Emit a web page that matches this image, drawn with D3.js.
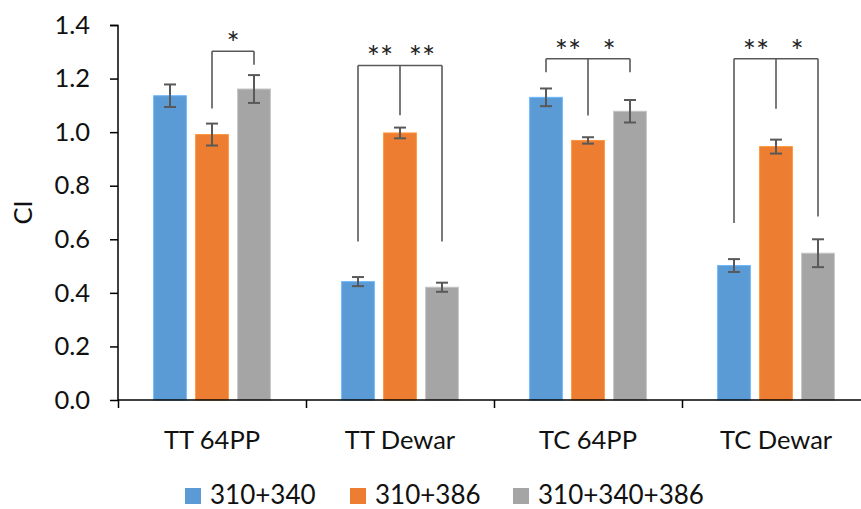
<!DOCTYPE html>
<html><head><meta charset="utf-8">
<script src="https://cdn.jsdelivr.net/npm/d3@7"></script>
<style>body{margin:0;background:#fff;}svg{display:block;font-family:Lato,"Open Sans",sans-serif;}</style>
</head><body><svg id="c" width="861" height="509"></svg>
<script>
const categories = ["TT 64PP", "TT Dewar", "TC 64PP", "TC Dewar"];
const seriesNames = ["310+340", "310+386", "310+340+386"];
const seriesColors = ["#5B9BD5", "#ED7D31", "#A5A5A5"];
const v310_340 = [1.136, 0.442, 1.130, 0.502];
const v310_386 = [0.991, 0.997, 0.969, 0.946];
const v310_340_386 = [1.161, 0.421, 1.078, 0.548];
const e310_340 = [0.042, 0.017, 0.033, 0.024];
const e310_386 = [0.041, 0.020, 0.012, 0.026];
const e310_340_386 = [0.052, 0.017, 0.042, 0.052];
const yTicks = [0.0, 0.2, 0.4, 0.6, 0.8, 1.0, 1.2, 1.4];
// significance brackets: category index, series indices with leg-end values, bar level, labels
const brackets = [
  {cat: 0, top: 1.302, legs: [[1, 1.088], [2, 1.252]], stars: [[1, 2, "*"]]},
  {cat: 1, top: 1.249, legs: [[0, 0.592], [1, 1.063], [2, 0.592]], stars: [[0, 1, "**"], [1, 2, "**"]]},
  {cat: 2, top: 1.274, legs: [[0, 1.224], [1, 1.062], [2, 1.224]], stars: [[0, 1, "**"], [1, 2, "*"]]},
  {cat: 3, top: 1.274, legs: [[0, 0.661], [1, 1.087], [2, 0.685]], stars: [[0, 1, "**"], [1, 2, "*"]]}
];

const values = [v310_340, v310_386, v310_340_386];
const errors = [e310_340, e310_386, e310_340_386];

const svg = d3.select("#c");
const x0 = d3.scaleBand().domain(categories).range([118, 870]).padding(0);
const x1 = d3.scaleBand().domain(d3.range(3)).range([31, 157]).paddingInner(0.22).paddingOuter(0.11);
const y = d3.scaleLinear().domain([0, 1.4]).range([400, 25]);
const cx = (c, s) => x0(categories[c]) + x1(s) + x1.bandwidth() / 2;

// bars
const rows = [];
categories.forEach((c, ci) => values.forEach((vals, si) => rows.push({ci, si, v: vals[ci], e: errors[si][ci]})));
svg.append("g").selectAll("rect").data(rows).join("rect")
  .attr("x", d => x0(categories[d.ci]) + x1(d.si))
  .attr("width", x1.bandwidth())
  .attr("y", d => y(d.v))
  .attr("height", d => y(0) - y(d.v))
  .attr("fill", d => seriesColors[d.si])
  .attr("stroke", d => d3.color(seriesColors[d.si]).brighter(0.5))
  .attr("stroke-width", 1);

// error bars
const eg = svg.append("g").attr("stroke", "#595959").attr("stroke-width", 2);
rows.forEach(d => {
  const xc = cx(d.ci, d.si);
  eg.append("line").attr("x1", xc).attr("x2", xc).attr("y1", y(d.v + d.e)).attr("y2", y(d.v - d.e));
  [d.v + d.e, d.v - d.e].forEach(t => eg.append("line").attr("x1", xc - 6).attr("x2", xc + 6).attr("y1", y(t)).attr("y2", y(t)));
});

// axes
const yAxis = d3.axisLeft(y).tickValues(yTicks).tickFormat(d3.format(".1f")).tickSize(8).tickPadding(20);
const gy = svg.append("g").attr("transform", "translate(118,0)").call(yAxis);
gy.select(".domain").attr("d", "M-8,25.5H0V400").attr("stroke", "#000").attr("stroke-width", 1.5).attr("fill", "none");
gy.selectAll(".tick line").attr("stroke", "#000").attr("stroke-width", 1.5);
gy.selectAll(".tick text").attr("font-size", 25.5).attr("fill", "#111").attr("font-family", "Lato");

const xAxis = d3.axisBottom(d3.scaleLinear().domain([0, 4]).range([118, 870])).tickValues([0, 1, 2, 3, 4]).tickFormat("").tickSize(8);
const gx = svg.append("g").attr("transform", "translate(0,400)").call(xAxis);
gx.select(".domain").attr("d", "M118,0H870").attr("stroke", "#000").attr("stroke-width", 1.5);
gx.selectAll(".tick line").attr("stroke", "#000").attr("stroke-width", 1.5);

svg.append("g").selectAll("text").data(categories).join("text")
  .attr("x", d => x0(d) + x0.bandwidth() / 2 + 0)
  .attr("y", 448.5)
  .attr("text-anchor", "middle")
  .attr("font-size", 25.5).attr("fill", "#111")
  .text(d => d);

svg.append("text").attr("transform", "translate(31.5,212.5) rotate(-90)")
  .attr("text-anchor", "middle").attr("font-size", 25.5).attr("fill", "#111").text("CI");

// significance brackets
const bg = svg.append("g").attr("stroke", "#595959").attr("stroke-width", 1.6).attr("fill", "none");
brackets.forEach(b => {
  const xs = b.legs.map(l => cx(b.cat, l[0]));
  bg.append("line").attr("x1", d3.min(xs)).attr("x2", d3.max(xs)).attr("y1", y(b.top)).attr("y2", y(b.top));
  b.legs.forEach(l => bg.append("line").attr("x1", cx(b.cat, l[0])).attr("x2", cx(b.cat, l[0])).attr("y1", y(b.top)).attr("y2", y(l[1])));
  b.stars.forEach(s => {
    svg.append("text").attr("x", (cx(b.cat, s[0]) + cx(b.cat, s[1])) / 2 + (s[2].length > 1 ? 1 : 0))
      .attr("y", y(b.top) + 3).attr("text-anchor", "middle")
      .attr("font-size", 31).attr("letter-spacing", 0).attr("fill", "#222").text(s[2]);
  });
});

// legend
const legX = [185, 350, 513];
const lg = svg.append("g");
seriesNames.forEach((n, i) => {
  lg.append("rect").attr("x", legX[i]).attr("y", 488).attr("width", 16).attr("height", 16).attr("fill", seriesColors[i]);
  lg.append("text").attr("x", legX[i] + 25).attr("y", 504).attr("font-size", 26).attr("fill", "#111").text(n);
});
</script></body></html>
